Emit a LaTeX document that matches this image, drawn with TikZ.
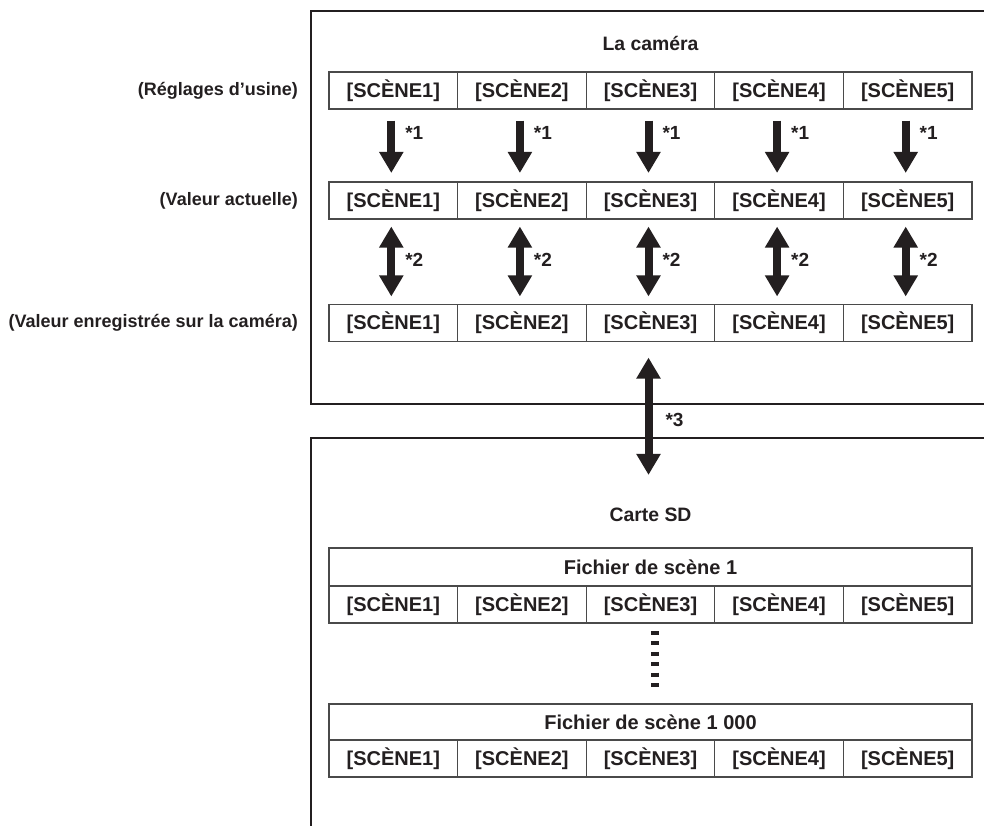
\documentclass[tikz,border=0pt]{standalone}
\usepackage{fontspec}
\setmainfont{Liberation Sans}
\usetikzlibrary{arrows.meta}
\definecolor{ink}{HTML}{231F20}
\definecolor{gridline}{HTML}{4A4A4A}
\begin{document}
\begin{tikzpicture}[x=1pt,y=-1pt,
  txt/.style={font=\fontsize{20}{24}\selectfont\bfseries, text=ink},
  cell/.style={txt, draw=gridline, line width=1.1pt, minimum width=128.6pt, minimum height=37pt, inner sep=0pt},
  hdr/.style={cell, minimum width=643pt, minimum height=37pt},
  lbl/.style={font=\fontsize{18}{22}\selectfont\bfseries, text=ink, anchor=east, inner sep=0pt},
  ttl/.style={font=\fontsize{19.4}{23}\selectfont\bfseries, text=ink, inner sep=0pt},
  star/.style={font=\fontsize{19}{23}\selectfont\bfseries, text=ink, anchor=west, inner sep=0pt},
  frame/.style={draw=ink, line width=2pt},
  bigarrow/.style={draw=ink, line width=8pt, -{Triangle[width=23pt,length=21pt]}},
  bigdarrow/.style={draw=ink, line width=8pt, {Triangle[width=23pt,length=21pt]}-{Triangle[width=23pt,length=21pt]}}
]
\useasboundingbox[fill=white] (0,0) rectangle (984,825);

% frames
\draw[frame] (990,11) -- (311,11) -- (311,404) -- (990,404);
\draw[frame] (990,438) -- (311,438) -- (311,830);

% titles
\node[ttl] (cam) at (650.5,43) {La caméra};
\node[ttl] (sd) at (650.5,515) {Carte SD};

% camera rows
\foreach \r/\y in {a/90.5,b/200.5,c/323}{
  \foreach \i in {1,...,5}{
    \node[cell] (\r\i) at ({329+(\i-0.5)*128.6},\y) {[SCÈNE\i]};
  }
}

% left labels
\node[lbl] (la) at (298,90.5) {(Réglages d’usine)};
\node[lbl] (lb) at (298,200.5) {(Valeur actuelle)};
\node[lbl] (lc) at (298,323) {(Valeur enregistrée sur la caméra)};

% arrows
\foreach \i in {1,...,5}{
  \draw[bigarrow] ([xshift=-2pt,yshift=-11pt]a\i.south) -- ([xshift=-2pt,yshift=8.5pt]b\i.north)
    node[star, pos=0.24, xshift=10pt] {*1};
  \draw[bigdarrow] ([xshift=-2pt,yshift=-7pt]b\i.south) -- ([xshift=-2pt,yshift=7.5pt]c\i.north)
    node[star, pos=0.48, xshift=10pt] {*2};
}
\draw[bigdarrow] ([xshift=-2pt,yshift=-15.5pt]c3.south) -- ([xshift=-2pt,yshift=33pt]sd.north)
  node[star, pos=0.53, xshift=13pt] {*3};

% SD card tables
\node[hdr, minimum height=38pt] (f1) at (650.5,567) {Fichier de scène 1};
\foreach \i in {1,...,5}{
  \node[cell] (d\i) at ({329+(\i-0.5)*128.6},604.5) {[SCÈNE\i]};
}
\node[hdr, minimum height=36pt] (f2) at (650.5,722) {Fichier de scène 1 000};
\foreach \i in {1,...,5}{
  \node[cell] (e\i) at ({329+(\i-0.5)*128.6},758.5) {[SCÈNE\i]};
}

% ellipsis
\draw[ink, line width=7.5pt, dash pattern=on 4pt off 6.4pt]
  ([xshift=4.5pt,yshift=-7.5pt]d3.south) -- ([xshift=4.5pt,yshift=16.5pt]f2.north);
\end{tikzpicture}
\end{document}
